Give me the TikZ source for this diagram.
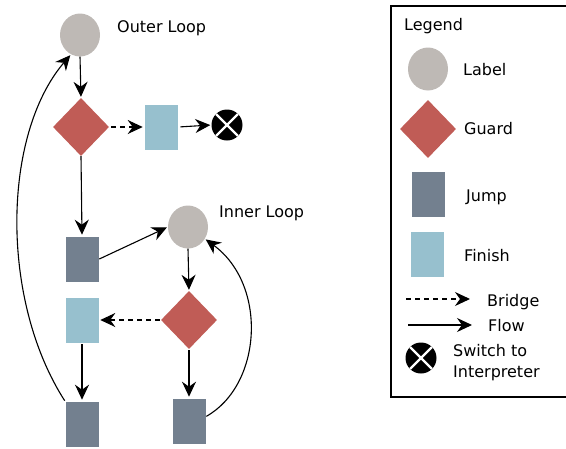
\documentclass[tikz,border=0pt]{standalone}
\usepackage{fontspec}
\setmainfont{DejaVu Sans}
\usetikzlibrary{shapes.geometric,arrows.meta}
\definecolor{labelc}{RGB}{190,185,181}
\definecolor{guardc}{RGB}{192,92,86}
\definecolor{jumpc}{RGB}{115,128,143}
\definecolor{finishc}{RGB}{151,192,206}
\tikzset{
 lbl/.style={ellipse, fill=labelc, minimum width=40pt, minimum height=43pt, inner sep=0pt},
 grd/.style={diamond, fill=guardc, minimum width=56pt, minimum height=58pt, inner sep=0pt},
 jmp/.style={rectangle, fill=jumpc, draw=white, line width=0.6pt, minimum width=34pt, minimum height=46pt, inner sep=0pt},
 fin/.style={rectangle, fill=finishc, draw=white, line width=0.6pt, minimum width=34pt, minimum height=46pt, inner sep=0pt},
 sw/.style={circle, fill=black, minimum size=31pt, inner sep=0pt,
   path picture={\draw[white, line width=2.2pt] (path picture bounding box.south west) -- (path picture bounding box.north east)
     (path picture bounding box.north west) -- (path picture bounding box.south east);}},
 txt/.style={font=\fontsize{16}{21}\selectfont, inner sep=0pt, anchor=base west},
 flow/.style={-{Stealth[length=15pt,width=14pt,inset=5pt]}, line width=1.1pt, shorten >=1pt},
 bridge/.style={flow, dash pattern=on 5pt off 4pt},
}
\begin{document}
\begin{tikzpicture}[x=1pt,y=-1pt]
\useasboundingbox (0,0) rectangle (566,448);
% main diagram
\node[lbl] (l1) at (80,35) {};
\node[txt] (t1) at (117,32) {Outer Loop};
\node[grd] (g1) at (81,127) {};
\node[fin] (f1) at (161,127) {};
\node[sw] (x1) at (227,125) {};
\node[jmp] (j1) at (82,259) {};
\node[lbl] (l2) at (188,227) {};
\node[txt] (t2) at (219,217) {Inner Loop};
\node[grd] (g2) at (189,320) {};
\node[fin] (f2) at (82,320) {};
\node[jmp] (j2) at (82,424) {};
\node[jmp] (j3) at (189,421) {};

\draw[flow] (l1.south) -- (g1.north);
\draw[bridge, shorten <=2pt] (g1.east) -- (f1.west);
\draw[flow, shorten <=2pt] (f1.east) -- (x1.west);
\draw[flow] (g1.south) -- (j1.north);
\draw[flow] (j1.east) -- (l2.west);
\draw[flow] (l2.south) -- (g2.north);
\draw[bridge, shorten <=1pt] (g2.west) -- (f2.east);
\draw[flow, shorten <=1pt] (f2.south) -- (j2.north);
\draw[flow, shorten <=1pt] (g2.south) -- (j3.north);
\draw[flow] (j3.15) .. controls (262,385) and (268,285) .. (l2.-35);
\draw[flow] (j2.north west) .. controls (0,300) and (2,135) .. (l1.-115);

% legend
\draw[line width=2.5pt] (566,6) -- (391,6) -- (391,397) -- (566,397);
\node[txt] (lt) at (404,30) {Legend};
\node[lbl] (ll) at (428,69) {};
\node[txt] (llt) at (463,75) {Label};
\node[grd] (lg) at (428,129) {};
\node[txt] (lgt) at (464,134) {Guard};
\node[jmp] (lj) at (428,194) {};
\node[txt] (ljt) at (466,201) {Jump};
\node[fin] (lf) at (427,254) {};
\node[txt] (lft) at (464,261) {Finish};
\coordinate (b1) at (406,299);
\coordinate (b2) at (471,299);
\draw[bridge] (b1) -- (b2);
\node[txt] (lbt) at (487,306) {Bridge};
\coordinate (c1) at (408,325);
\coordinate (c2) at (473,325);
\draw[flow] (c1) -- (c2);
\node[txt] (lct) at (488,331) {Flow};
\node[sw] (lx) at (421,358) {};
\node[txt, anchor=west, align=left] (lxt) at (453,363) {Switch to\\Interpreter};
\end{tikzpicture}
\end{document}
